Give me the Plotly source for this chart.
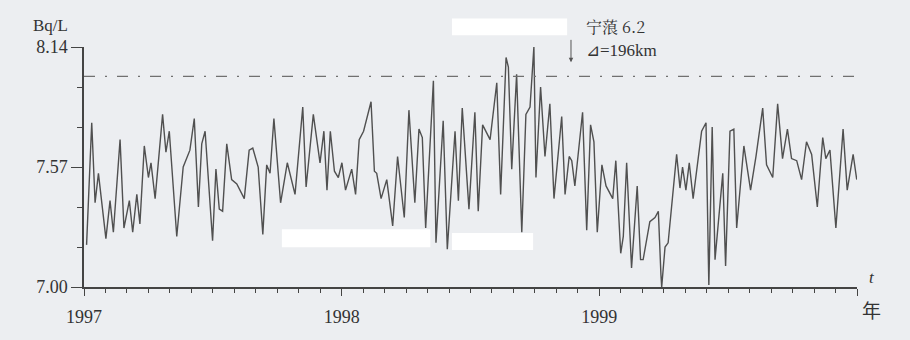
import plotly.graph_objects as go

# Time (decimal year) and radon concentration (Bq/L)
t_year = [
    1997.010, 1997.030, 1997.043, 1997.056, 1997.085, 1997.101, 1997.114, 1997.140, 1997.155, 1997.176,
    1997.189, 1997.205, 1997.217, 1997.234, 1997.250, 1997.260, 1997.276, 1997.305, 1997.318, 1997.331,
    1997.360, 1997.385, 1997.411, 1997.428, 1997.444, 1997.457, 1997.470, 1997.499, 1997.512, 1997.525,
    1997.538, 1997.554, 1997.573, 1997.593, 1997.622, 1997.641, 1997.655, 1997.676, 1997.694, 1997.709,
    1997.722, 1997.737, 1997.763, 1997.789, 1997.819, 1997.849, 1997.862, 1997.890, 1997.916, 1997.931,
    1997.943, 1997.956, 1997.972, 1997.987, 1998.001, 1998.015, 1998.039, 1998.054, 1998.068, 1998.085,
    1998.114, 1998.127, 1998.136, 1998.153, 1998.175, 1998.198, 1998.217, 1998.243, 1998.261, 1998.284,
    1998.300, 1998.313, 1998.326, 1998.356, 1998.366, 1998.394, 1998.410, 1998.440, 1998.453, 1998.468,
    1998.494, 1998.517, 1998.530, 1998.547, 1998.576, 1998.602, 1998.617, 1998.638, 1998.647, 1998.660,
    1998.679, 1998.699, 1998.715, 1998.731, 1998.746, 1998.754, 1998.772, 1998.789, 1998.808, 1998.824,
    1998.854, 1998.867, 1998.883, 1998.893, 1998.905, 1998.935, 1998.951, 1998.966, 1998.979, 1998.992,
    1999.010, 1999.026, 1999.052, 1999.064, 1999.083, 1999.093, 1999.106, 1999.125, 1999.147, 1999.160,
    1999.170, 1999.196, 1999.216, 1999.229, 1999.239, 1999.242, 1999.255, 1999.267, 1999.300, 1999.313,
    1999.323, 1999.336, 1999.349, 1999.364, 1999.397, 1999.414, 1999.423, 1999.425, 1999.438, 1999.449,
    1999.479, 1999.490, 1999.507, 1999.522, 1999.533, 1999.561, 1999.587, 1999.608, 1999.634, 1999.649,
    1999.673, 1999.692, 1999.711, 1999.730, 1999.746, 1999.766, 1999.785, 1999.804, 1999.824, 1999.846,
    1999.867, 1999.879, 1999.895, 1999.918, 1999.946, 1999.962, 1999.985, 1999.999,
]
radon = [
    7.20, 7.78, 7.40, 7.54, 7.23, 7.41, 7.26, 7.70, 7.28, 7.41,
    7.26, 7.44, 7.30, 7.67, 7.52, 7.59, 7.42, 7.82, 7.64, 7.74,
    7.24, 7.57, 7.65, 7.80, 7.38, 7.68, 7.74, 7.22, 7.56, 7.37,
    7.36, 7.68, 7.51, 7.49, 7.42, 7.65, 7.66, 7.57, 7.25, 7.58,
    7.54, 7.80, 7.40, 7.59, 7.44, 7.855, 7.475, 7.82, 7.59, 7.74,
    7.46, 7.74, 7.55, 7.52, 7.59, 7.46, 7.56, 7.44, 7.70, 7.74,
    7.88, 7.55, 7.54, 7.42, 7.51, 7.29, 7.62, 7.33, 7.84, 7.40,
    7.75, 7.71, 7.28, 7.98, 7.21, 7.79, 7.18, 7.74, 7.41, 7.85,
    7.37, 7.83, 7.36, 7.77, 7.70, 7.97, 7.44, 8.09, 8.045, 7.56,
    8.01, 7.26, 7.82, 7.855, 8.14, 7.52, 7.95, 7.62, 7.87, 7.42,
    7.81, 7.44, 7.62, 7.60, 7.48, 7.83, 7.27, 7.77, 7.69, 7.26,
    7.58, 7.48, 7.42, 7.60, 7.16, 7.24, 7.59, 7.09, 7.48, 7.13,
    7.13, 7.31, 7.33, 7.36, 7.06, 7.00, 7.19, 7.21, 7.63, 7.47,
    7.57, 7.46, 7.59, 7.42, 7.74, 7.78, 7.14, 7.01, 7.76, 7.13,
    7.54, 7.10, 7.74, 7.75, 7.28, 7.67, 7.46, 7.62, 7.85, 7.58,
    7.52, 7.87, 7.61, 7.75, 7.61, 7.60, 7.51, 7.69, 7.63, 7.38,
    7.71, 7.61, 7.65, 7.28, 7.75, 7.46, 7.63, 7.51,
]

threshold = 8.0
y_ticks = [7.00, 7.57, 8.14]
x_ticks = [1997, 1998, 1999, 2000]
x_tick_labels = ["1997", "1998", "1999", ""]
quake_time = 1998.890
quake_level = 8.067
quake_name = "宁蒗 6.2"
quake_dist = "⊿=196km"

BG = "#eceef1"
INK = "#444444"
FONT = "Times New Roman"
CJK = "Noto Sans CJK SC"

fig = go.Figure()

fig.add_trace(go.Scatter(
    x=t_year, y=radon, mode="lines",
    line=dict(color="#505050", width=1.4),
    hoverinfo="x+y", showlegend=False,
))

fig.add_trace(go.Scatter(
    x=[x_ticks[0], x_ticks[-1]], y=[threshold, threshold], mode="lines",
    line=dict(color="#707070", width=1.2, dash="11px,10px,2px,10px"),
    hoverinfo="skip", showlegend=False,
))

fig.update_layout(
    width=910, height=340,
    margin=dict(l=84, r=53, t=47, b=53),
    paper_bgcolor=BG, plot_bgcolor=BG,
    font=dict(family=FONT, size=16, color="#333333"),
    xaxis=dict(
        range=[x_ticks[0], x_ticks[-1]],
        tickmode="array", tickvals=x_ticks, ticktext=x_tick_labels,
        ticks="outside", ticklen=7, tickwidth=1.3, tickcolor=INK,
        minor=dict(tickmode="linear", tick0=1997, dtick=1/12, ticks="outside",
                   ticklen=4, tickwidth=1.1, tickcolor=INK),
        showline=True, linecolor=INK, linewidth=1.5,
        showgrid=False, zeroline=False,
        ticklabelstandoff=6,
        tickfont=dict(size=18, family=FONT),
    ),
    yaxis=dict(
        range=[y_ticks[0], y_ticks[-1]],
        tickmode="array", tickvals=y_ticks, ticktext=[f"{v:.2f}" for v in y_ticks],
        ticks="outside", ticklen=11, tickwidth=1.3, tickcolor=INK,
        minor=dict(tickmode="linear", tick0=7.0, dtick=0.19, ticks="outside",
                   ticklen=5, tickwidth=1.1, tickcolor=INK),
        showline=True, linecolor=INK, linewidth=1.5,
        showgrid=False, zeroline=False,
        tickfont=dict(size=18, family=FONT),
    ),
)

annotations = [
    dict(x=0, xref="paper", y=y_ticks[-1], yref="y", text="Bq/L", showarrow=False,
         xanchor="right", yanchor="middle", xshift=-14, yshift=22, font=dict(size=17, family=FONT)),
    dict(x=1, xref="paper", y=y_ticks[0], yref="y", text="<i>t</i>", showarrow=False,
         xanchor="center", yanchor="middle", xshift=15, yshift=10, font=dict(size=17, family=FONT)),
    dict(x=1, xref="paper", y=y_ticks[0], yref="y", text="年", showarrow=False,
         xanchor="center", yanchor="middle", xshift=14, yshift=-22,
         font=dict(size=19, family=CJK)),
    dict(x=quake_time, xref="x", y=quake_level, yref="y", text="", showarrow=True,
         ax=0, ay=-24, arrowhead=2, arrowsize=0.9, arrowwidth=1, arrowcolor="#555555"),
    dict(x=quake_time, xref="x", y=quake_level, yref="y", text=quake_name, showarrow=False,
         xanchor="left", yanchor="middle", xshift=13, yshift=36,
         font=dict(size=16, family="Noto Serif CJK SC, Noto Sans CJK SC, Times New Roman")),
    dict(x=quake_time, xref="x", y=quake_level, yref="y", text=quake_dist, showarrow=False,
         xanchor="left", yanchor="middle", xshift=13, yshift=12, font=dict(size=17, family=FONT)),
]
fig.update_layout(annotations=annotations)

# white redaction patches present on the scanned figure
patches = [
    (0.476, 0.625, 1.049, 1.119),
    (0.256, 0.448, 0.166, 0.241),
    (0.476, 0.581, 0.154, 0.225),
]
for x0, x1, y0, y1 in patches:
    fig.add_shape(type="rect", xref="paper", yref="paper", x0=x0, x1=x1, y0=y0, y1=y1,
                  fillcolor="white", line=dict(width=0), layer="above")

fig.write_html("out.html")
